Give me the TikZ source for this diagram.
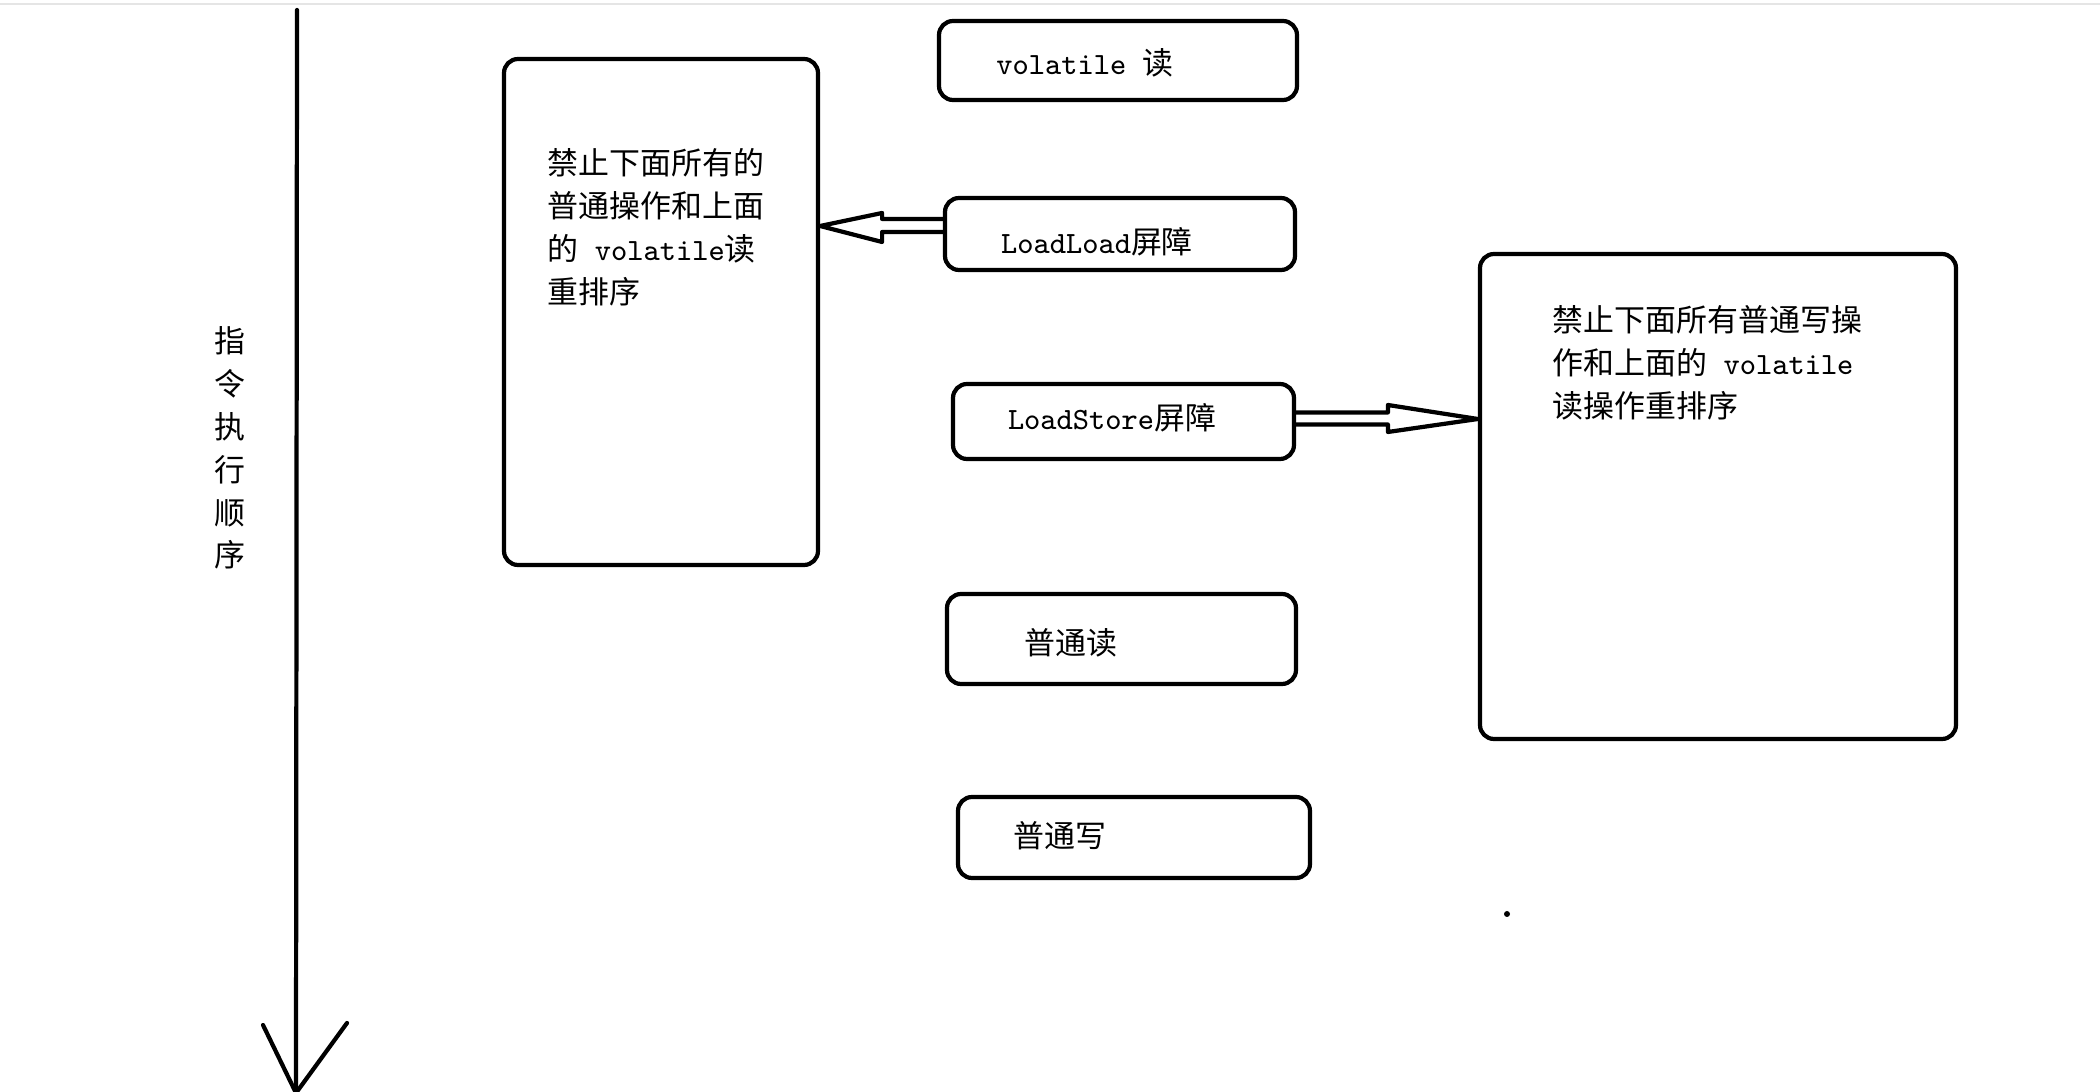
\documentclass[tikz,border=0pt]{standalone}
\usepackage{fontspec}
\newfontfamily\cjk{Noto Sans CJK SC}
\usetikzlibrary{calc}

\begin{document}
\begin{tikzpicture}[
    every node/.style={font=\cjk\fontsize{8.8}{12.2}\selectfont},
    box/.style={rectangle, draw, line width=1.2pt, inner sep=0pt, rounded corners=4pt},
    txt/.style={inner sep=0pt, align=left},
    hollow/.style={draw, line width=1.2pt, line join=round},
    axis/.style={line width=1.2pt, line cap=round}
]
\useasboundingbox (0,0) rectangle (21,-10.92);

% ============ FRAME ============
\coordinate (fl) at (0,-0.04);
\coordinate (fr) at (21,-0.04);
\draw[black!10, line width=0.5pt] (fl) -- (fr);

% ============ ORDER AXIS ============
\coordinate (top) at (2.97,-0.10);
\coordinate (bot) at (2.96,-10.93);
\draw[axis] (top) -- (bot);
\draw[axis] (bot) -- ++(-0.33,0.68);
\draw[axis] (bot) -- ++(0.51,0.70);
\node[txt, align=center] (order) at (2.30,-4.48) {指\\令\\执\\行\\顺\\序};

% ============ INSTRUCTIONS ============
\node[box, minimum width=3.58cm, minimum height=0.79cm] (vol) at (11.18,-0.605) {};
\node[txt] (voltxt) at (10.85,-0.63) {\texttt{volatile }读};

\node[box, minimum width=3.50cm, minimum height=0.72cm] (ll) at (11.20,-2.34) {};
\node[txt] (lltxt) at (10.97,-2.42) {\texttt{LoadLoad}屏障};

\node[box, minimum width=3.41cm, minimum height=0.75cm] (ls) at (11.235,-4.215) {};
\node[txt] (lstxt) at (11.12,-4.18) {\texttt{LoadStore}屏障};

\node[box, minimum width=3.49cm, minimum height=0.90cm] (nr) at (11.215,-6.39) {};
\node[txt] (nrtxt) at (10.71,-6.43) {普通读};

\node[box, minimum width=3.52cm, minimum height=0.81cm] (nw) at (11.34,-8.375) {};
\node[txt] (nwtxt) at (10.60,-8.36) {普通写};

% ============ RULES ============
\node[box, minimum width=3.14cm, minimum height=5.06cm] (rule1) at (6.61,-3.12) {};
\node[txt, anchor=north west] (rule1txt) at (5.47,-1.48)
    {禁止下面所有的\\普通操作和上面\\的\texttt{ volatile}读\\重排序};

\node[box, minimum width=4.76cm, minimum height=4.85cm] (rule2) at (17.18,-4.965) {};
\node[txt, anchor=north west] (rule2txt) at (15.52,-3.05)
    {禁止下面所有普通写操\\作和上面的\texttt{ volatile}\\读操作重排序};

% ============ ARROWS ============
\coordinate (tipa) at ($(rule1.east |- ll.west)+(0,0.08)$);
\draw[hollow] ($(ll.west)+(0,0.15)$) -- ($(tipa)+(0.62,0.07)$) -- ($(tipa)+(0.62,0.13)$)
    -- (tipa) -- ($(tipa)+(0.62,-0.16)$) -- ($(tipa)+(0.62,-0.06)$) -- ($(ll.west)+(0,0.02)$);

\coordinate (tipb) at ($(rule2.west |- ls.east)+(0,0.025)$);
\draw[hollow] ($(ls.east)+(0,0.09)$) -- ($(tipb)+(-0.90,0.065)$) -- ($(tipb)+(-0.90,0.14)$)
    -- (tipb) -- ($(tipb)+(-0.90,-0.13)$) -- ($(tipb)+(-0.90,-0.055)$) -- ($(ls.east)+(0,-0.03)$);

% stray dot
\node[circle, fill, inner sep=0pt, minimum size=0.06cm] (dot) at (15.07,-9.14) {};

\end{tikzpicture}
\end{document}
